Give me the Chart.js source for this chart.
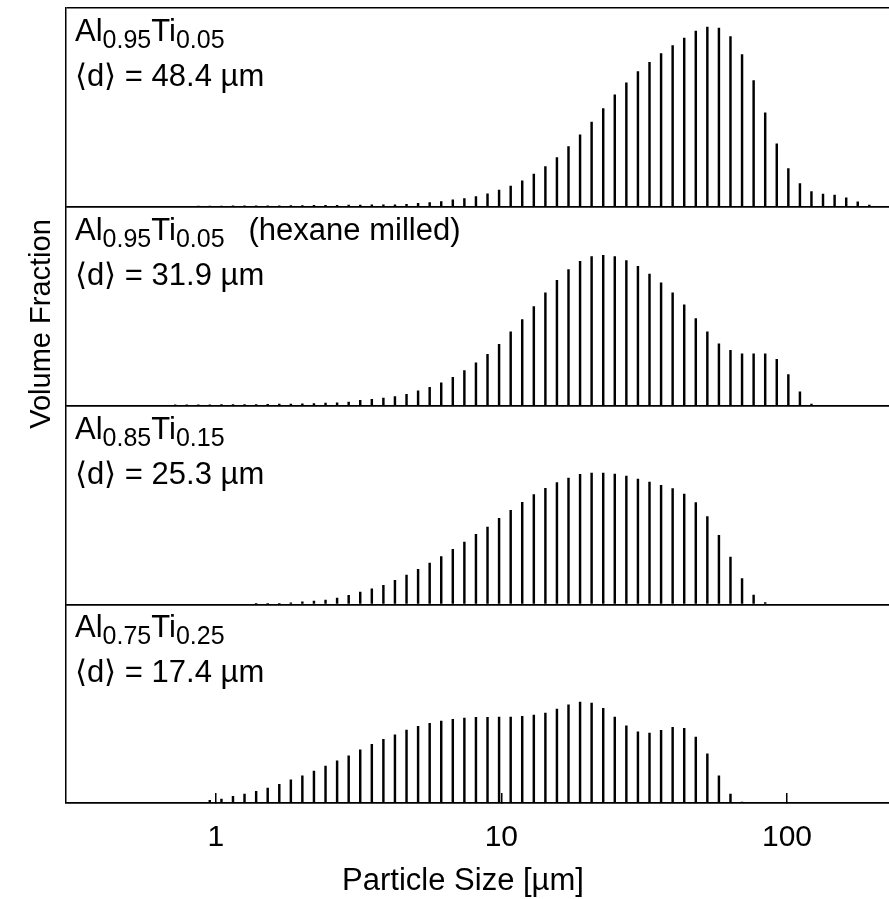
<!DOCTYPE html>
<html>
<head>
<meta charset="utf-8">
<script src="https://cdn.jsdelivr.net/npm/chart.js@4.4.1/dist/chart.umd.min.js"></script>
<style>
  html, body { margin: 0; padding: 0; background: #fff; }
  #wrap { position: relative; width: 889px; height: 899px; }
</style>
</head>
<body>
<div id="wrap"><canvas id="sizeChart"></canvas></div>
<script>
// particle size channels (um)
const sizes = [0.598, 0.657, 0.721, 0.791, 0.869, 0.953, 1.047, 1.149, 1.261, 1.385,
  1.520, 1.669, 1.832, 2.010, 2.207, 2.423, 2.660, 2.920, 3.205, 3.519,
  3.863, 4.240, 4.655, 5.110, 5.610, 6.158, 6.760, 7.421, 8.147, 8.943,
  9.817, 10.78, 11.83, 12.99, 14.26, 15.65, 17.18, 18.86, 20.70, 22.73,
  24.95, 27.39, 30.07, 33.01, 36.24, 39.78, 43.67, 47.94, 52.62, 57.77,
  63.41, 69.61, 76.42, 83.89, 92.09, 101.1, 111.0, 121.8, 133.7, 146.8,
  161.2, 176.9, 194.2, 213.2];

// volume fraction per channel (arb. units), one list per panel, top to bottom
const volA = [0, 0, 0, 0, 0.5, 0.6, 0.7, 0.8, 0.8, 0.9,
  1, 1, 1.1, 1.2, 1.3, 1.4, 1.5, 1.6, 1.7, 1.8,
  1.9, 2, 2.3, 3.3, 4.3, 5.3, 7, 8.3, 10.3, 13,
  16.7, 20.7, 26, 32.7, 40.3, 49.3, 60.3, 72, 84.7, 98.3,
  112, 124, 135.3, 144.7, 153.3, 161.3, 169, 176, 180, 179,
  170.3, 152.3, 126.3, 94, 63, 38.3, 23.3, 15.3, 12.7, 11.7,
  9, 5, 1.7, 0];
const volB = [0, 0, 0.5, 0.5, 0.6, 0.7, 0.8, 0.8, 1, 1,
  1.2, 1.3, 1.5, 1.7, 2, 2.3, 2.7, 3.3, 5.3, 6.3,
  7.5, 9, 11.2, 14.7, 18.2, 22.8, 28.3, 35, 42.7, 51.3,
  61.3, 73.7, 86, 99, 112.7, 125.3, 136, 144.3, 149, 150.3,
  149, 145, 139.3, 131.7, 122.7, 112.7, 100.7, 87, 73.7, 61.7,
  55.3, 51.7, 51.7, 51.7, 46.3, 31, 13.7, 1.5, 0, 0,
  0, 0, 0, 0];
const volC = [0, 0, 0, 0, 0, 0, 0, 0, 0, 0.5,
  0.7, 1, 1.3, 2.3, 3.2, 4.3, 6.2, 9, 12.2, 15.5,
  19, 24, 29.2, 35, 41.2, 47.7, 55, 62.3, 70, 77.3,
  86, 94, 102, 109.7, 116, 121.7, 126.3, 130, 131.3, 131.3,
  130.3, 128.3, 125.3, 122.3, 119, 115.7, 110.3, 101.7, 87.7, 69,
  47.3, 25.7, 9.3, 1.7, 0, 0, 0, 0, 0, 0,
  0, 0, 0, 0];
const volD = [0, 0, 0, 0, 0, 2.7, 4, 6.7, 9, 11.7,
  15, 18.7, 23.3, 27.3, 32, 37, 42.3, 47.3, 53.3, 58.7,
  63.7, 68.3, 73, 76.7, 79.7, 82, 83.7, 85, 85.7, 85.7,
  86, 86, 86.7, 88, 90, 94, 98.3, 101, 100, 94.7,
  86, 77.3, 71.3, 70, 72.7, 75.7, 74.7, 66, 49.3, 27.3,
  9, 1, 0, 0, 0, 0, 0, 0, 0, 0,
  0, 0, 0, 0];

// panel captions
const alAmount = ["0.95", "0.95", "0.85", "0.75"];
const tiAmount = ["0.05", "0.05", "0.15", "0.25"];
const notes = ["", "(hexane milled)", "", ""];
const meanSize = ["48.4", "31.9", "25.3", "17.4"];

const xTicks = [1, 10, 100];
const X_MIN = 0.299;
const X_MAX = 227.6;
const Y_MAX = 199;

const FAMILY = '"Liberation Sans", Arial, Helvetica, sans-serif';
const MAIN_FONT = "31px " + FAMILY;
const SUB_FONT = "25px " + FAMILY;

const panelIds = ["yA", "yB", "yC", "yD"];
const panelData = [volA, volB, volC, volD];

function panelAxis(weight) {
    return {
        type: "linear",
        position: "left",
        stack: "panels",
        stackWeight: 1,
        weight: weight,
        min: 0,
        max: Y_MAX,
        afterBuildTicks: (s) => {
            s.ticks = [{ value: 0 }, { value: Y_MAX }];
        },
        ticks: { display: false },
        grid: { color: "#000", lineWidth: 1.5, drawTicks: false },
        border: { display: true, color: "#000", width: 1.5 },
    };
}

function run(c, text, x, y, sub) {
    c.font = sub ? SUB_FONT : MAIN_FONT;
    c.fillText(text, x, sub ? y + 7 : y);
    return x + c.measureText(text).width;
}

const textPlugin = {
    id: "panelText",
    afterDraw(chart) {
        const c = chart.ctx;
        const area = chart.chartArea;
        c.save();
        c.fillStyle = "#000";
        c.textAlign = "left";
        c.textBaseline = "alphabetic";
        panelIds.forEach((id, i) => {
            const top = chart.scales[id].top;
            const x0 = area.left + 9;
            let x = run(c, "Al", x0, top + 33, false);
            x = run(c, alAmount[i], x, top + 33, true);
            x = run(c, "Ti", x, top + 33, false);
            x = run(c, tiAmount[i], x, top + 33, true);
            if (notes[i]) run(c, notes[i], x + 24, top + 33, false);
            run(c, "\u27E8d\u27E9 = " + meanSize[i] + " \u00B5m", x0, top + 78, false);
        });

        // axis titles
        c.font = "31px " + FAMILY;
        c.textAlign = "center";
        c.fillText("Particle Size [\u00B5m]", 463, 890);

        c.font = "29px " + FAMILY;
        c.translate(50, 324);
        c.rotate(-Math.PI / 2);
        c.fillText("Volume Fraction", 0, 0);
        c.restore();
    },
};

const scales = {
    x: {
        type: "logarithmic",
        position: "bottom",
        offset: false,
        min: X_MIN,
        max: X_MAX,
        afterBuildTicks: (s) => {
            s.ticks = xTicks.map((v) => ({ value: v }));
        },
        afterFit: (s) => {
            s.height = 96;
        },
        ticks: {
            color: "#000",
            font: { family: FAMILY, size: 30 },
            padding: 27,
            maxRotation: 0,
            autoSkip: false,
            callback: (v) => String(v),
        },
        grid: {
            offset: false,
            drawOnChartArea: false,
            drawTicks: true,
            tickLength: -10,
            color: "#000",
            lineWidth: 1.5,
        },
        border: { display: true, color: "#000", width: 1.5 },
    },
};
panelIds.forEach((id, i) => {
    scales[id] = panelAxis(4 - i);
});

const ctx = document.getElementById("sizeChart");
const sizeChart = new Chart(ctx, {
    type: "bar",
    data: {
        datasets: panelData.map((vals, i) => ({
            data: sizes.map((s, k) => ({ x: s, y: vals[k] })),
            yAxisID: panelIds[i],
            xAxisID: "x",
            grouped: false,
            barThickness: 1.8,
            backgroundColor: "#000",
            borderWidth: 0,
        })),
    },
    options: {
        responsive: true,
        maintainAspectRatio: false,
        animation: false,
        devicePixelRatio: 1,
        layout: { padding: { left: 66, top: 8, right: 0, bottom: 0 } },
        scales: scales,
        plugins: {
            legend: { display: false },
            tooltip: { enabled: false },
        },
    },
    plugins: [textPlugin],
});
</script>
</body>
</html>
